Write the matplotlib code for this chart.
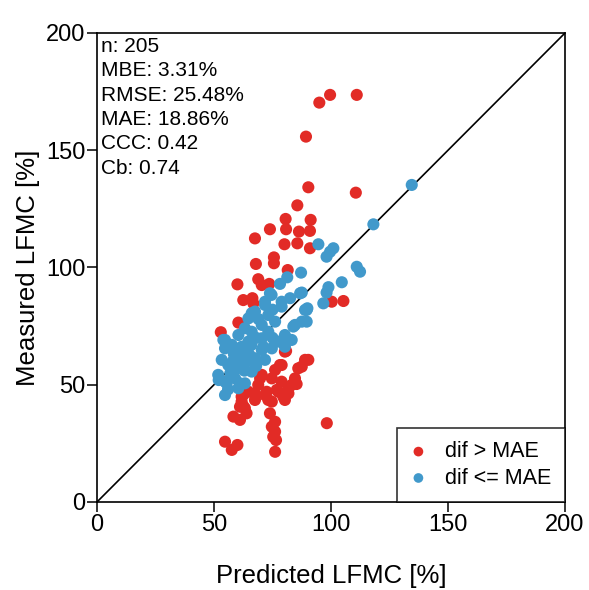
import matplotlib
matplotlib.use('Agg')
import matplotlib.pyplot as plt
import numpy as np

plt.rcParams['font.family'] = ['Liberation Sans', 'DejaVu Sans']

# points with |predicted - measured| > MAE
red_x = [99.6, 95.0, 111.0, 89.3, 90.3, 110.6, 85.6,
         80.6, 91.3, 73.9, 80.8, 86.3, 91.0, 67.5, 80.1, 85.6, 91.0, 75.6, 75.6, 67.9, 81.5,
         60.0, 68.9, 73.6, 70.4, 62.5, 66.4, 66.8, 100.3, 105.3,
         60.4, 52.9, 80.8, 90.3, 87.5, 78.2, 76.1,
         80.3, 88.9, 86.0, 78.9, 70.4, 74.7, 68.9, 78.9, 83.2, 84.6, 64.7, 71.8, 77.5, 81.8,
         61.8, 67.5, 74.7, 80.3, 69.7, 85.3, 81.8, 76.8, 72.5, 67.5, 62.5, 79.6, 62.5, 73.2,
         58.3, 61.1, 63.9, 63.2, 61.8, 73.9, 76.1, 74.7, 76.1, 75.3, 76.5, 76.1, 98.2,
         54.7, 57.6, 60.0, 61.1]
red_y = [173.6, 170.3, 173.6, 155.8, 134.2, 131.9, 126.5,
         120.7, 120.3, 116.3, 116.3, 115.3, 115.6, 112.4, 109.9, 110.3, 108.2, 104.3, 101.8, 101.5, 98.9,
         92.8, 95.0, 93.0, 92.5, 86.1, 86.9, 84.7, 85.4, 85.7,
         76.5, 72.4, 64.4, 60.6, 57.7, 58.4, 56.3,
         64.1, 60.6, 57.0, 58.4, 54.2, 52.7, 49.9, 51.3, 49.9, 52.7, 47.0, 45.6, 47.0, 46.3,
         44.9, 43.5, 42.8, 43.5, 52.7, 50.3, 48.5, 47.8, 47.0, 46.1, 45.6, 44.9, 40.9, 43.5,
         36.4, 35.0, 37.8, 40.0, 42.8, 37.8, 34.2, 32.1, 30.0, 27.8, 26.4, 21.4, 33.6,
         25.7, 22.2, 24.3, 40.6]

# points with |predicted - measured| <= MAE
blue_x = [134.5, 118.1, 94.6, 101.0, 99.6, 98.1, 87.2, 111.0, 112.4, 104.6, 98.9, 98.1,
          81.3, 78.2, 73.9, 87.5, 82.5, 71.8, 89.9, 96.7, 78.9,
          74.6, 71.8, 78.9, 88.9, 84.6, 80.3, 76.1, 73.2, 67.5, 64.7, 70.4, 60.4, 54.7, 57.6,
          64.7, 70.4, 77.5, 83.2, 87.5, 73.2, 66.1, 63.2, 71.1, 61.8,
          54.7, 61.8, 70.4, 74.7, 80.3, 53.3, 56.1, 61.8, 67.5, 71.8, 51.8, 54.7, 59.0, 60.4,
          54.7, 63.2, 66.1,
          89.6, 89.6, 83.9, 66.1, 54.0, 55.4, 61.1, 86.8,
          58.5, 65.0, 68.0, 63.0, 57.0, 60.0, 66.0, 68.0, 75.0, 69.0, 75.0, 62.0, 64.0, 58.0, 52.0, 56.0]
blue_y = [135.2, 118.4, 109.9, 108.2, 106.7, 104.6, 97.8, 100.3, 98.2, 93.7, 91.6, 89.3,
          95.8, 93.0, 89.0, 89.3, 86.9, 85.4, 82.6, 84.7, 83.3,
          88.3, 84.0, 85.4, 81.9, 75.5, 71.2, 76.9, 79.7, 81.2, 78.3, 75.5, 71.2, 69.1, 67.0,
          68.4, 69.8, 68.4, 69.1, 76.9, 72.6, 72.6, 74.1, 66.2, 66.2,
          65.5, 65.5, 64.8, 65.5, 66.2, 60.6, 58.4, 59.8, 61.3, 60.6, 54.2, 51.3, 52.7, 48.5,
          45.6, 50.6, 55.6,
          81.9, 76.9, 74.8, 80.5, 69.1, 50.6, 50.6, 89.0,
          63.0, 63.0, 58.0, 56.0, 55.0, 57.0, 67.0, 70.0, 70.0, 78.0, 82.0, 62.0, 60.0, 60.0, 52.0, 48.0]

stats_text = "n: 205\nMBE: 3.31%\nRMSE: 25.48%\nMAE: 18.86%\nCCC: 0.42\nCb: 0.74"

red = '#E22B26'
blue = '#4199CB'

fig = plt.figure(figsize=(5.89, 5.90), dpi=100)
ax = fig.add_axes([0.1647, 0.1492, 0.7946, 0.7949])

ax.plot([0, 200], [0, 200], color='black', lw=1.2, zorder=1)
ax.scatter(red_x, red_y, s=76, color=red, edgecolors='none', zorder=2, label='dif > MAE')
ax.scatter(blue_x, blue_y, s=76, color=blue, edgecolors='none', zorder=2, label='dif <= MAE')

ax.set_xlim(0, 200)
ax.set_ylim(0, 200)
ticks = [0, 50, 100, 150, 200]
ax.set_xticks(ticks)
ax.set_yticks(ticks)
ax.tick_params(direction='out', length=7, width=1.1, labelsize=17, pad=1.5)
for sp in ax.spines.values():
    sp.set_linewidth(1.2)

ax.set_xlabel('Predicted LFMC [%]', fontsize=18.5, labelpad=20)
ax.set_ylabel('Measured LFMC [%]', fontsize=18.5, labelpad=4)

ax.text(0.009, 0.992, stats_text, transform=ax.transAxes, ha='left', va='top',
        fontsize=15, linespacing=1.36)

leg = ax.legend(loc='lower right', fontsize=15.5, markerscale=0.8, frameon=True,
                fancybox=False, borderaxespad=0, handletextpad=0.88, borderpad=0.62,
                labelspacing=0.25, handlelength=0.75)
leg.get_frame().set_edgecolor('black')
leg.get_frame().set_linewidth(1.2)

fig.savefig('out.png', dpi=100)
